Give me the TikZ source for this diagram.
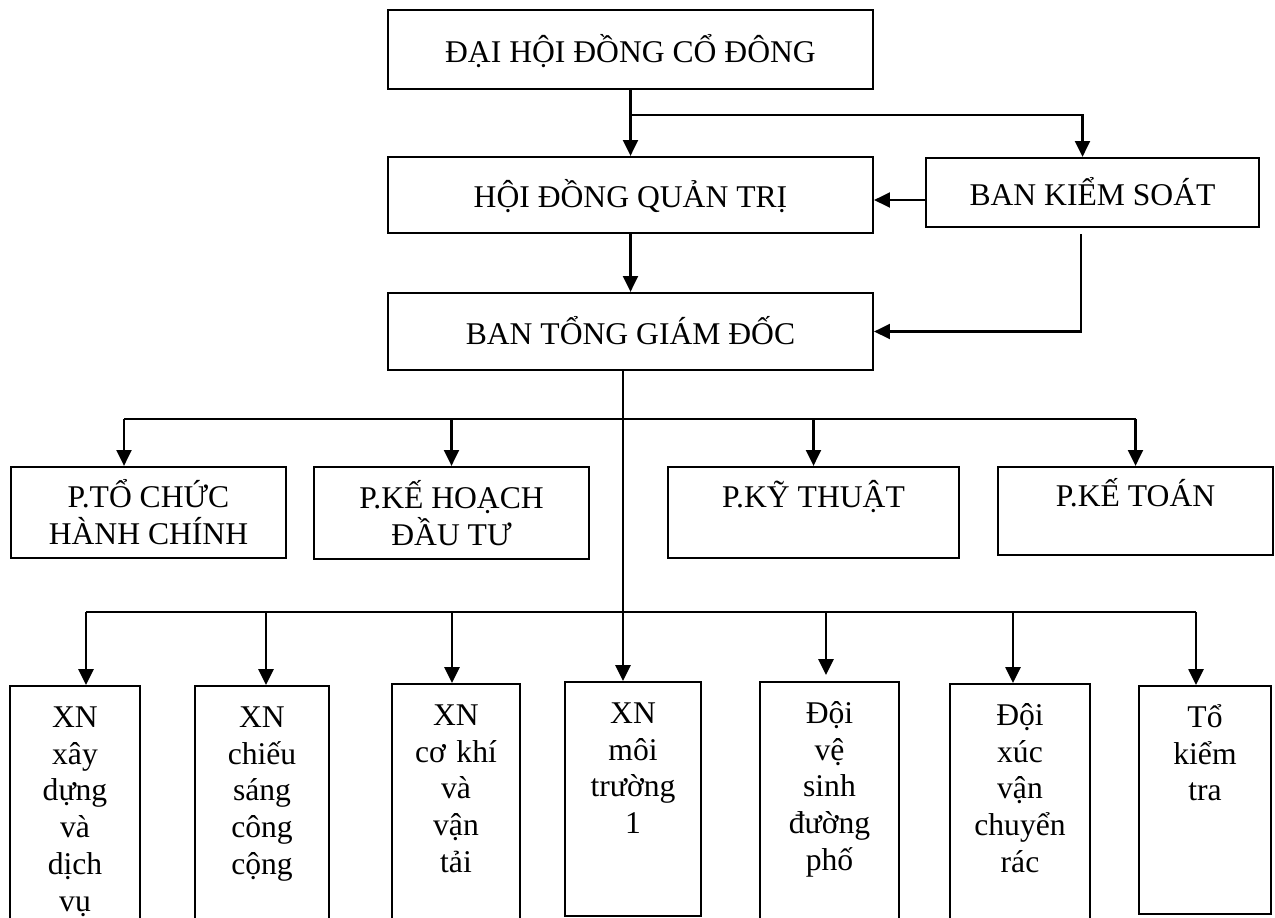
\documentclass[tikz,border=0pt]{standalone}
\usepackage{fontspec}
\setmainfont{Liberation Serif}
\usetikzlibrary{arrows.meta}

\begin{document}
\begin{tikzpicture}[x=0.02cm,y=-0.02cm,>={Triangle[length=9pt,width=8.5pt]},
    line width=1.3pt,font=\fontsize{18}{21}\selectfont]
    \tikzstyle{block} = [draw,rectangle,inner sep=0pt,text height=16pt,text depth=1.7pt]
    \tikzstyle{dept} = [draw,rectangle,inner sep=0pt,align=center,text height=15.5pt,text depth=21pt,minimum height=1.82cm]
    \tikzstyle{unit} = [draw,rectangle,anchor=north,inner sep=0pt,align=center,text height=0.82cm,text depth=4.3cm]
    \path [use as bounding box,clip] (0,0) rectangle (1275,917);

    % top of the chart
    \node [block,minimum width=9.7cm,minimum height=1.58cm] (dhcd) at (630.5,49.5) {ĐẠI HỘI ĐỒNG CỔ ĐÔNG};
    \node [block,minimum width=9.7cm,minimum height=1.52cm] (hdqt) at (630.5,195) {HỘI ĐỒNG QUẢN TRỊ};
    \node [block,minimum width=6.66cm,minimum height=1.38cm] (bks) at (1092.5,192.5) {BAN KIỂM SOÁT};
    \node [block,minimum width=9.7cm,minimum height=1.54cm] (tgd) at (630.5,331.5) {BAN TỔNG GIÁM ĐỐC};

    % phong ban
    \node [dept,minimum width=5.5cm,text height=36.5pt,text depth=0pt] (tchc) at (148.5,512.5) {P.TỔ CHỨC\\HÀNH CHÍNH};
    \node [dept,minimum width=5.5cm,minimum height=1.84cm,text height=36.5pt,text depth=0pt] (khdt) at (451.5,513) {P.KẾ HOẠCH\\ĐẦU TƯ};
    \node [dept,minimum width=5.82cm] (kt) at (813.5,512.5) {P.KỸ THUẬT};
    \node [dept,minimum width=5.5cm,minimum height=1.76cm] (ketoan) at (1135.5,511) {P.KẾ TOÁN};

    % don vi truc thuoc
    \node [unit,text width=2.6cm] (xnxd) at (75,685) {XN\\xây\\dựng\\và\\dịch\\vụ};
    \node [unit,text width=2.68cm] (xncs) at (262,685) {XN\\chiếu\\sáng\\công\\cộng};
    \node [unit,text width=2.56cm] (xnck) at (456,683) {XN\\cơ khí\\và\\vận\\tải};
    \node [unit,text width=2.72cm,text depth=3.86cm] (xnmt) at (633,681) {XN\\môi\\trường\\1};
    \node [unit,text width=2.78cm] (dvs) at (829.5,681) {Đội\\vệ\\sinh\\đường\\phố};
    \node [unit,text width=2.8cm] (dxc) at (1020,683) {Đội\\xúc\\vận\\chuyển\\rác};
    \node [unit,text width=2.64cm,text depth=3.74cm] (tkt) at (1205,685) {Tổ\\kiểm\\tra};

    \path (dhcd.south) -- (hdqt.north) coordinate[pos=0.38] (m1);
    \coordinate (pbus) at (623,419);
    \coordinate (ubus) at (623,612);

    \draw [->] (dhcd) -- (hdqt);
    \draw [->] (m1) -| ([xshift=-0.2cm]bks.north);
    \draw [->] ([yshift=-0.15cm]bks.west) -- ([yshift=-0.15cm]bks.west -| hdqt.east);
    \draw [->] (hdqt) -- (tgd);
    \draw [->,shorten <=0.12cm] ([xshift=-0.23cm]bks.south) |- (tgd.east);
    \draw [->] (tgd.south -| pbus) -- (xnmt.north -| pbus);

    \draw ([xshift=-0.49cm]tchc.north |- pbus) -- (ketoan.north |- pbus);
    \draw [->] ([xshift=-0.49cm]tchc.north |- pbus) -- ([xshift=-0.49cm]tchc.north);
    \draw [->] (khdt.north |- pbus) -- (khdt);
    \draw [->] (kt.north |- pbus) -- (kt);
    \draw [->] (ketoan.north |- pbus) -- (ketoan);

    \draw ([xshift=0.22cm]xnxd.north |- ubus) -- ([xshift=-0.18cm]tkt.north |- ubus);
    \draw [->] ([xshift=0.22cm]xnxd.north |- ubus) -- ([xshift=0.22cm]xnxd.north);
    \draw [->] ([xshift=0.08cm]xncs.north |- ubus) -- ([xshift=0.08cm]xncs.north);
    \draw [->] ([xshift=-0.08cm]xnck.north |- ubus) -- ([xshift=-0.08cm]xnck.north);
    \draw [->] ([xshift=-0.07cm]dvs.north |- ubus) -- ([xshift=-0.07cm,yshift=0.12cm]dvs.north);
    \draw [->] ([xshift=-0.14cm]dxc.north |- ubus) -- ([xshift=-0.14cm]dxc.north);
    \draw [->] ([xshift=-0.18cm]tkt.north |- ubus) -- ([xshift=-0.18cm]tkt.north);
\end{tikzpicture}
\end{document}
